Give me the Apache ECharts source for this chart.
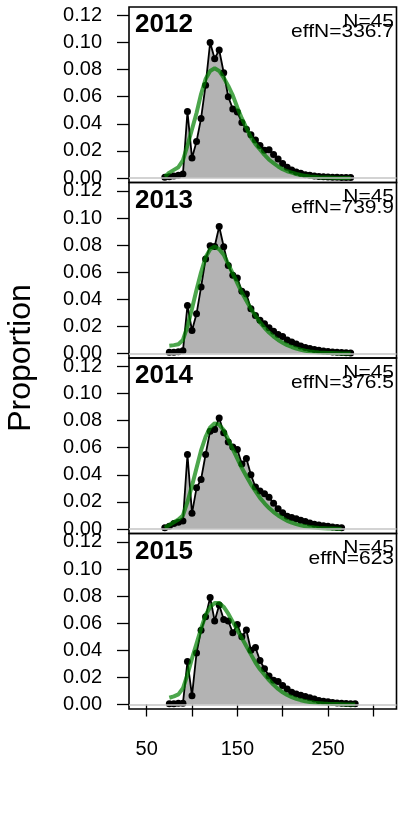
<!DOCTYPE html>
<html>
<head>
<meta charset="utf-8">
<script src="https://cdn.jsdelivr.net/npm/echarts@6/dist/echarts.min.js"></script>
<style>
  html, body { margin: 0; padding: 0; background: #fff; }
  #main { width: 398px; height: 814px; }
</style>
</head>
<body>
<div id="main"></div>
<script>
// length bins (x), shared by every year
var lengthBins = [70, 75, 80, 85, 90, 95, 100, 105, 110, 115, 120, 125, 130, 135, 140,
    145, 150, 155, 160, 165, 170, 175, 180, 185, 190, 195, 200, 205, 210, 215,
    220, 225, 230, 235, 240, 245, 250, 255, 260, 265, 270, 275, 280];

var years = ['2012', '2013', '2014', '2015'];
var sampleN = ['45', '45', '45', '45'];
var effN = ['336.7', '739.9', '376.5', '623'];

// observed proportions
var obs2012 = [0.0005, 0.001, 0.0015, 0.002, 0.003, 0.049, 0.0148, 0.027, 0.044, 0.0685,
    0.100, 0.088, 0.0945, 0.0777, 0.060, 0.051, 0.0487, 0.041, 0.036, 0.032,
    0.028, 0.024, 0.0205, 0.0208, 0.0173, 0.014, 0.0108, 0.008, 0.006, 0.0045,
    0.0035, 0.0025, 0.002, 0.0015, 0.0012, 0.001, 0.0008, 0.0006, 0.0005, 0.0004,
    0.0003, 0.0003, null];
var obs2013 = [null, 0.001, 0.001, 0.0013, 0.002, 0.0355, 0.017, 0.0293, 0.049, 0.0697,
    0.0795, 0.079, 0.0937, 0.0788, 0.065, 0.0578, 0.0558, 0.046, 0.044, 0.033,
    0.028, 0.0245, 0.022, 0.019, 0.0165, 0.014, 0.0125, 0.010, 0.0085, 0.007,
    0.0055, 0.0045, 0.0038, 0.003, 0.0024, 0.0018, 0.0015, 0.0012, 0.0009, 0.0007,
    0.0005, 0.0004, null];
var obs2014 = [0.001, 0.002, 0.004, 0.005, 0.006, 0.055, 0.0116, 0.0304, 0.0366, 0.055,
    0.0722, 0.0735, 0.082, 0.071, 0.0643, 0.0606, 0.0586, 0.048, 0.052, 0.040,
    0.031, 0.028, 0.026, 0.0235, 0.019, 0.015, 0.012, 0.0095, 0.0085, 0.0075,
    0.0065, 0.0055, 0.0045, 0.0035, 0.003, 0.0025, 0.002, 0.0015, 0.0012, 0.001,
    null, null, null];
var obs2015 = [null, 0.0005, 0.0005, 0.001, 0.001, 0.0318, 0.0065, 0.038, 0.0548, 0.0647,
    0.079, 0.0617, 0.0734, 0.0627, 0.0617, 0.053, 0.059, 0.050, 0.055, 0.040,
    0.042, 0.0325, 0.0264, 0.021, 0.018, 0.017, 0.014, 0.0115, 0.009, 0.0078,
    0.0068, 0.006, 0.005, 0.004, 0.003, 0.0025, 0.002, 0.0015, 0.0012, 0.001,
    0.0008, 0.0006, 0.0005];

// expected proportions
var exp2012 = [0.001, 0.004, 0.006, 0.008, 0.013, 0.024, 0.036, 0.048, 0.062, 0.073,
    0.079, 0.081, 0.079, 0.074, 0.068, 0.061, 0.052, 0.044, 0.037, 0.030,
    0.025, 0.021, 0.017, 0.0135, 0.011, 0.0085, 0.0065, 0.005, 0.004, 0.003,
    0.0022, 0.0016, 0.0012, 0.0009, 0.0006, 0.0004, 0.0003, 0.0002, 0.0001, 0.0001,
    0.0001, 0.0, null];
var exp2013 = [null, 0.0058, 0.0062, 0.0068, 0.010, 0.020, 0.033, 0.047, 0.060, 0.071,
    0.077, 0.079, 0.077, 0.073, 0.066, 0.059, 0.052, 0.045, 0.039, 0.033,
    0.028, 0.023, 0.019, 0.0155, 0.0125, 0.010, 0.008, 0.0062, 0.0048, 0.0037,
    0.0028, 0.002, 0.0015, 0.0011, 0.0008, 0.0006, 0.0004, 0.0003, 0.0002, 0.0001,
    0.0001, 0.0, null];
var exp2014 = [0.001, 0.003, 0.005, 0.007, 0.010, 0.020, 0.032, 0.045, 0.058, 0.068,
    0.075, 0.078, 0.077, 0.073, 0.066, 0.059, 0.052, 0.045, 0.039, 0.033,
    0.028, 0.023, 0.019, 0.0155, 0.0125, 0.010, 0.008, 0.006, 0.0047, 0.0036,
    0.0027, 0.002, 0.0015, 0.0011, 0.0008, 0.0006, 0.0004, 0.0003, 0.0002, 0.0001,
    null, null, null];
var exp2015 = [null, 0.005, 0.006, 0.0075, 0.012, 0.022, 0.034, 0.045, 0.056, 0.066,
    0.072, 0.075, 0.075, 0.072, 0.067, 0.061, 0.055, 0.049, 0.043, 0.037,
    0.031, 0.026, 0.022, 0.018, 0.0145, 0.0115, 0.009, 0.007, 0.0055, 0.0042,
    0.0032, 0.0024, 0.0018, 0.0013, 0.001, 0.0007, 0.0005, 0.0004, 0.0003, 0.0002,
    0.0001, 0.0001, 0.0];

var yTicks = [0, 0.02, 0.04, 0.06, 0.08, 0.10, 0.12];
var xTicks = [50, 100, 150, 200, 250, 300];
var xLabels = [50, 150, 250];

var obsAll = [obs2012, obs2013, obs2014, obs2015];
var expAll = [exp2012, exp2013, exp2014, exp2015];

var FONT = 'Liberation Sans, Arial, Helvetica, sans-serif';
var panelTop = 7, panelH = 175.5, panelLeft = 129, panelW = 267.5;

// 数据转成 [x, y] 对
function toPairs(vals) {
    var out = [];
    vals.forEach(function (v, i) {
        if (v !== null) out.push([lengthBins[i], v]);
    });
    return out;
}

var grids = [], xAxes = [], yAxes = [], series = [], graphics = [];

years.forEach(function (yr, i) {
    var top = panelTop + panelH * i;
    var last = i === years.length - 1;
    grids.push({
        left: panelLeft, top: top, width: panelW, height: panelH,
        show: true, borderColor: '#000', borderWidth: 1.6, backgroundColor: 'transparent'
    });
    xAxes.push({
        gridIndex: i, type: 'value', min: 30.5, max: 325.6,
        show: last,
        axisLine: { show: false },
        splitLine: { show: false },
        axisTick: {
            show: true, length: 12, customValues: xTicks,
            lineStyle: { color: '#000', width: 1.3 }
        },
        axisLabel: {
            show: true, customValues: xLabels, margin: 30,
            color: '#000', fontSize: 20, fontFamily: FONT
        }
    });
    yAxes.push({
        gridIndex: i, type: 'value', min: -0.0033, max: 0.1262,
        axisLine: { show: false },
        splitLine: { show: false },
        axisTick: {
            show: true, length: 12, customValues: yTicks,
            lineStyle: { color: '#000', width: 1.3 }
        },
        axisLabel: {
            show: true, customValues: yTicks, margin: 27,
            color: '#000', fontSize: 20, fontFamily: FONT,
            formatter: function (v) { return v.toFixed(2); }
        }
    });
    // zero line
    series.push({
        type: 'line', xAxisIndex: i, yAxisIndex: i, data: [], z: 1, silent: true,
        markLine: {
            silent: true, symbol: 'none', label: { show: false },
            lineStyle: { color: '#c4c4c4', type: 'solid', width: 1.5 },
            data: [{ yAxis: 0 }]
        }
    });
    // observed
    series.push({
        type: 'line', xAxisIndex: i, yAxisIndex: i, z: 3,
        data: toPairs(obsAll[i]),
        symbol: 'circle', symbolSize: 7, showAllSymbol: true,
        itemStyle: { color: '#000' },
        lineStyle: { color: '#000', width: 1.8 },
        areaStyle: { color: '#b3b3b3', opacity: 1, origin: 0 },
        animation: false
    });
    // expected
    series.push({
        type: 'line', xAxisIndex: i, yAxisIndex: i, z: 4,
        data: toPairs(expAll[i]),
        symbol: 'none',
        lineStyle: { color: 'rgba(0,128,0,0.7)', width: 4 },
        animation: false
    });

    graphics.push({
        type: 'text', x: 135, y: top + 5,
        style: { text: yr, fontSize: 26, fontWeight: 'bold', fontFamily: FONT, fill: '#000', align: 'left', verticalAlign: 'top' }
    });
    graphics.push({
        type: 'text', x: 394, y: top + 5, scaleY: 0.9,
        style: { text: 'N=' + sampleN[i], fontSize: 21, fontFamily: FONT, fill: '#000', align: 'right', verticalAlign: 'top' }
    });
    graphics.push({
        type: 'text', x: 394, y: top + 15.5, scaleY: 0.9,
        style: { text: 'effN=' + effN[i], fontSize: 21, fontFamily: FONT, fill: '#000', align: 'right', verticalAlign: 'top' }
    });
});

graphics.push({
    type: 'text', x: 21, y: 358, rotation: Math.PI / 2,
    style: { text: 'Proportion', fontSize: 32, fontFamily: FONT, fill: '#000', align: 'center', verticalAlign: 'middle' }
});

var chart = echarts.init(document.getElementById('main'));
chart.setOption({
    animation: false,
    backgroundColor: '#fff',
    grid: grids,
    xAxis: xAxes,
    yAxis: yAxes,
    series: series,
    graphic: graphics
});
</script>
</body>
</html>
